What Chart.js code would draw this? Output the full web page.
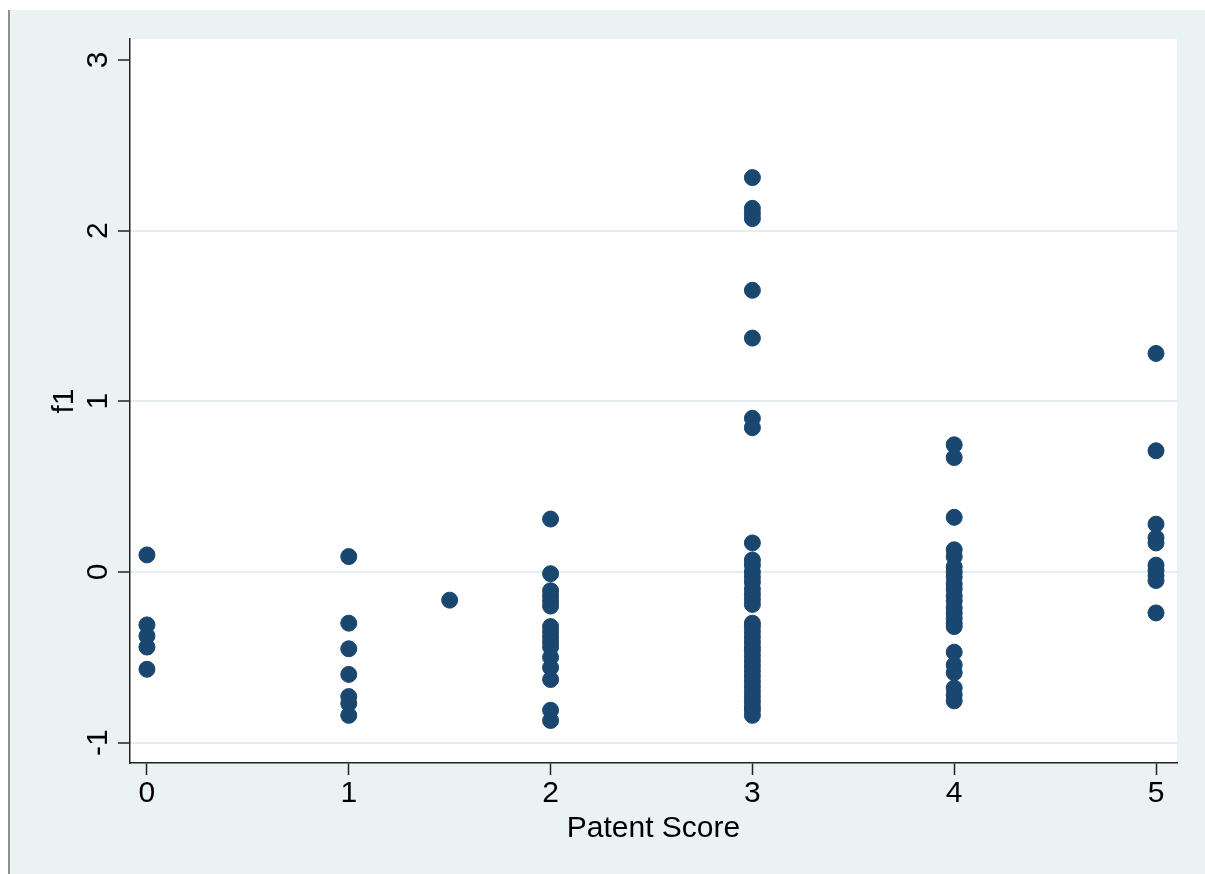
<!DOCTYPE html>
<html>
<head>
<meta charset="utf-8">
<title>f1 by Patent Score</title>
<script src="https://cdn.jsdelivr.net/npm/chart.js@4.4.1/dist/chart.umd.min.js"></script>
<style>
    html, body { margin: 0; padding: 0; background: #ffffff; }
    #wrap { width: 1205px; height: 874px; position: relative; }
</style>
</head>
<body>
<div id="wrap"><canvas id="chart"></canvas></div>
<script>
// Patent score groups and the f1 values
const scores = [0, 1, 1.5, 2, 3, 4, 5];
const f1Score0 = [0.10, -0.31, -0.375, -0.44, -0.57];
const f1Score1 = [0.09, -0.30, -0.45, -0.60, -0.73, -0.77, -0.84];
const f1Score15 = [-0.165];
const f1Score2 = [0.31, -0.01, -0.11, -0.14, -0.17, -0.20, -0.32, -0.35, -0.38, -0.41, -0.44,
    -0.50, -0.56, -0.63, -0.81, -0.87];
const f1Score3 = [2.31, 2.13, 2.10, 2.07, 1.65, 1.37, 0.90, 0.845, 0.17,
    0.07, 0.04, 0.00, -0.03, -0.06, -0.10, -0.13, -0.16, -0.19,
    -0.30, -0.32, -0.35, -0.38, -0.41, -0.44, -0.46, -0.49, -0.52, -0.55,
    -0.58, -0.61, -0.64, -0.67, -0.70, -0.73, -0.76, -0.79, -0.81, -0.84];
const f1Score4 = [0.745, 0.67, 0.32, 0.13, 0.09, 0.03, 0.00, -0.03, -0.07, -0.10, -0.14,
    -0.17, -0.21, -0.24, -0.27, -0.30, -0.32, -0.47, -0.545, -0.59, -0.68, -0.72, -0.755];
const f1Score5 = [1.28, 0.71, 0.28, 0.20, 0.17, 0.04, 0.01, -0.02, -0.05, -0.24];
const groups = [f1Score0, f1Score1, f1Score15, f1Score2, f1Score3, f1Score4, f1Score5];

const xTicks = [0, 1, 2, 3, 4, 5];
const yTicks = [-1, 0, 1, 2, 3];

const points = [];
groups.forEach((vals, i) => {
    vals.forEach(v => points.push({x: scores[i], y: v}));
});

const FONT = '"Liberation Sans", Arial, Helvetica, sans-serif';
const BG = '#eaf2f3';

// outer grey frame and white plot region, Stata style
const backdrop = {
    id: 'backdrop',
    beforeDraw(chart) {
        const {ctx, chartArea: a} = chart;
        ctx.save();
        ctx.fillStyle = BG;
        ctx.fillRect(10, 10, chart.width - 10, chart.height - 10);
        ctx.fillStyle = '#8f8f8f';
        ctx.fillRect(8, 10, 2, chart.height - 10);
        ctx.fillStyle = '#ffffff';
        ctx.fillRect(a.left, a.top, a.right - a.left, a.bottom - a.top);
        ctx.restore();
    }
};

new Chart(document.getElementById('chart'), {
    type: 'scatter',
    data: {
        datasets: [{
            label: 'f1',
            data: points,
            backgroundColor: '#1a476f',
            borderColor: '#1a476f',
            borderWidth: 1,
            pointRadius: 8,
            pointHoverRadius: 8
        }]
    },
    options: {
        responsive: true,
        maintainAspectRatio: false,
        animation: false,
        events: [],
        layout: {padding: {top: 39, right: 28, bottom: 0, left: 0}},
        plugins: {legend: {display: false}, tooltip: {enabled: false}},
        scales: {
            x: {
                type: 'linear',
                min: -0.084,
                max: 5.104,
                afterBuildTicks: s => { s.ticks = xTicks.map(v => ({value: v})); },
                afterFit: s => { s.height = 111; },
                grid: {drawOnChartArea: false, tickLength: 12, tickColor: '#222', tickWidth: 1.5},
                border: {display: true, color: '#222', width: 1.5},
                ticks: {color: '#000', font: {family: FONT, size: 30}, padding: 1, maxRotation: 0},
                title: {display: true, text: 'Patent Score', color: '#000',
                    font: {family: FONT, size: 30}, padding: {top: 0, bottom: 27}}
            },
            y: {
                type: 'linear',
                min: -1.119,
                max: 3.122,
                afterBuildTicks: s => { s.ticks = yTicks.map(v => ({value: v})); },
                afterFit: s => { s.width = 130; },
                grid: {
                    color: c => (c.tick && c.tick.value === 3 ? 'rgba(0,0,0,0)' : '#e4eef0'),
                    lineWidth: 2,
                    tickLength: 12,
                    tickColor: '#222',
                    tickWidth: 1.5
                },
                border: {display: true, color: '#222', width: 1.5},
                ticks: {color: '#000', font: {family: FONT, size: 30}, padding: 6,
                    minRotation: 90, maxRotation: 90, crossAlign: 'center'},
                title: {display: true, text: 'f1', color: '#000',
                    font: {family: FONT, size: 30}, padding: {top: 47, bottom: 0}}
            }
        }
    },
    plugins: [backdrop]
});
</script>
</body>
</html>
